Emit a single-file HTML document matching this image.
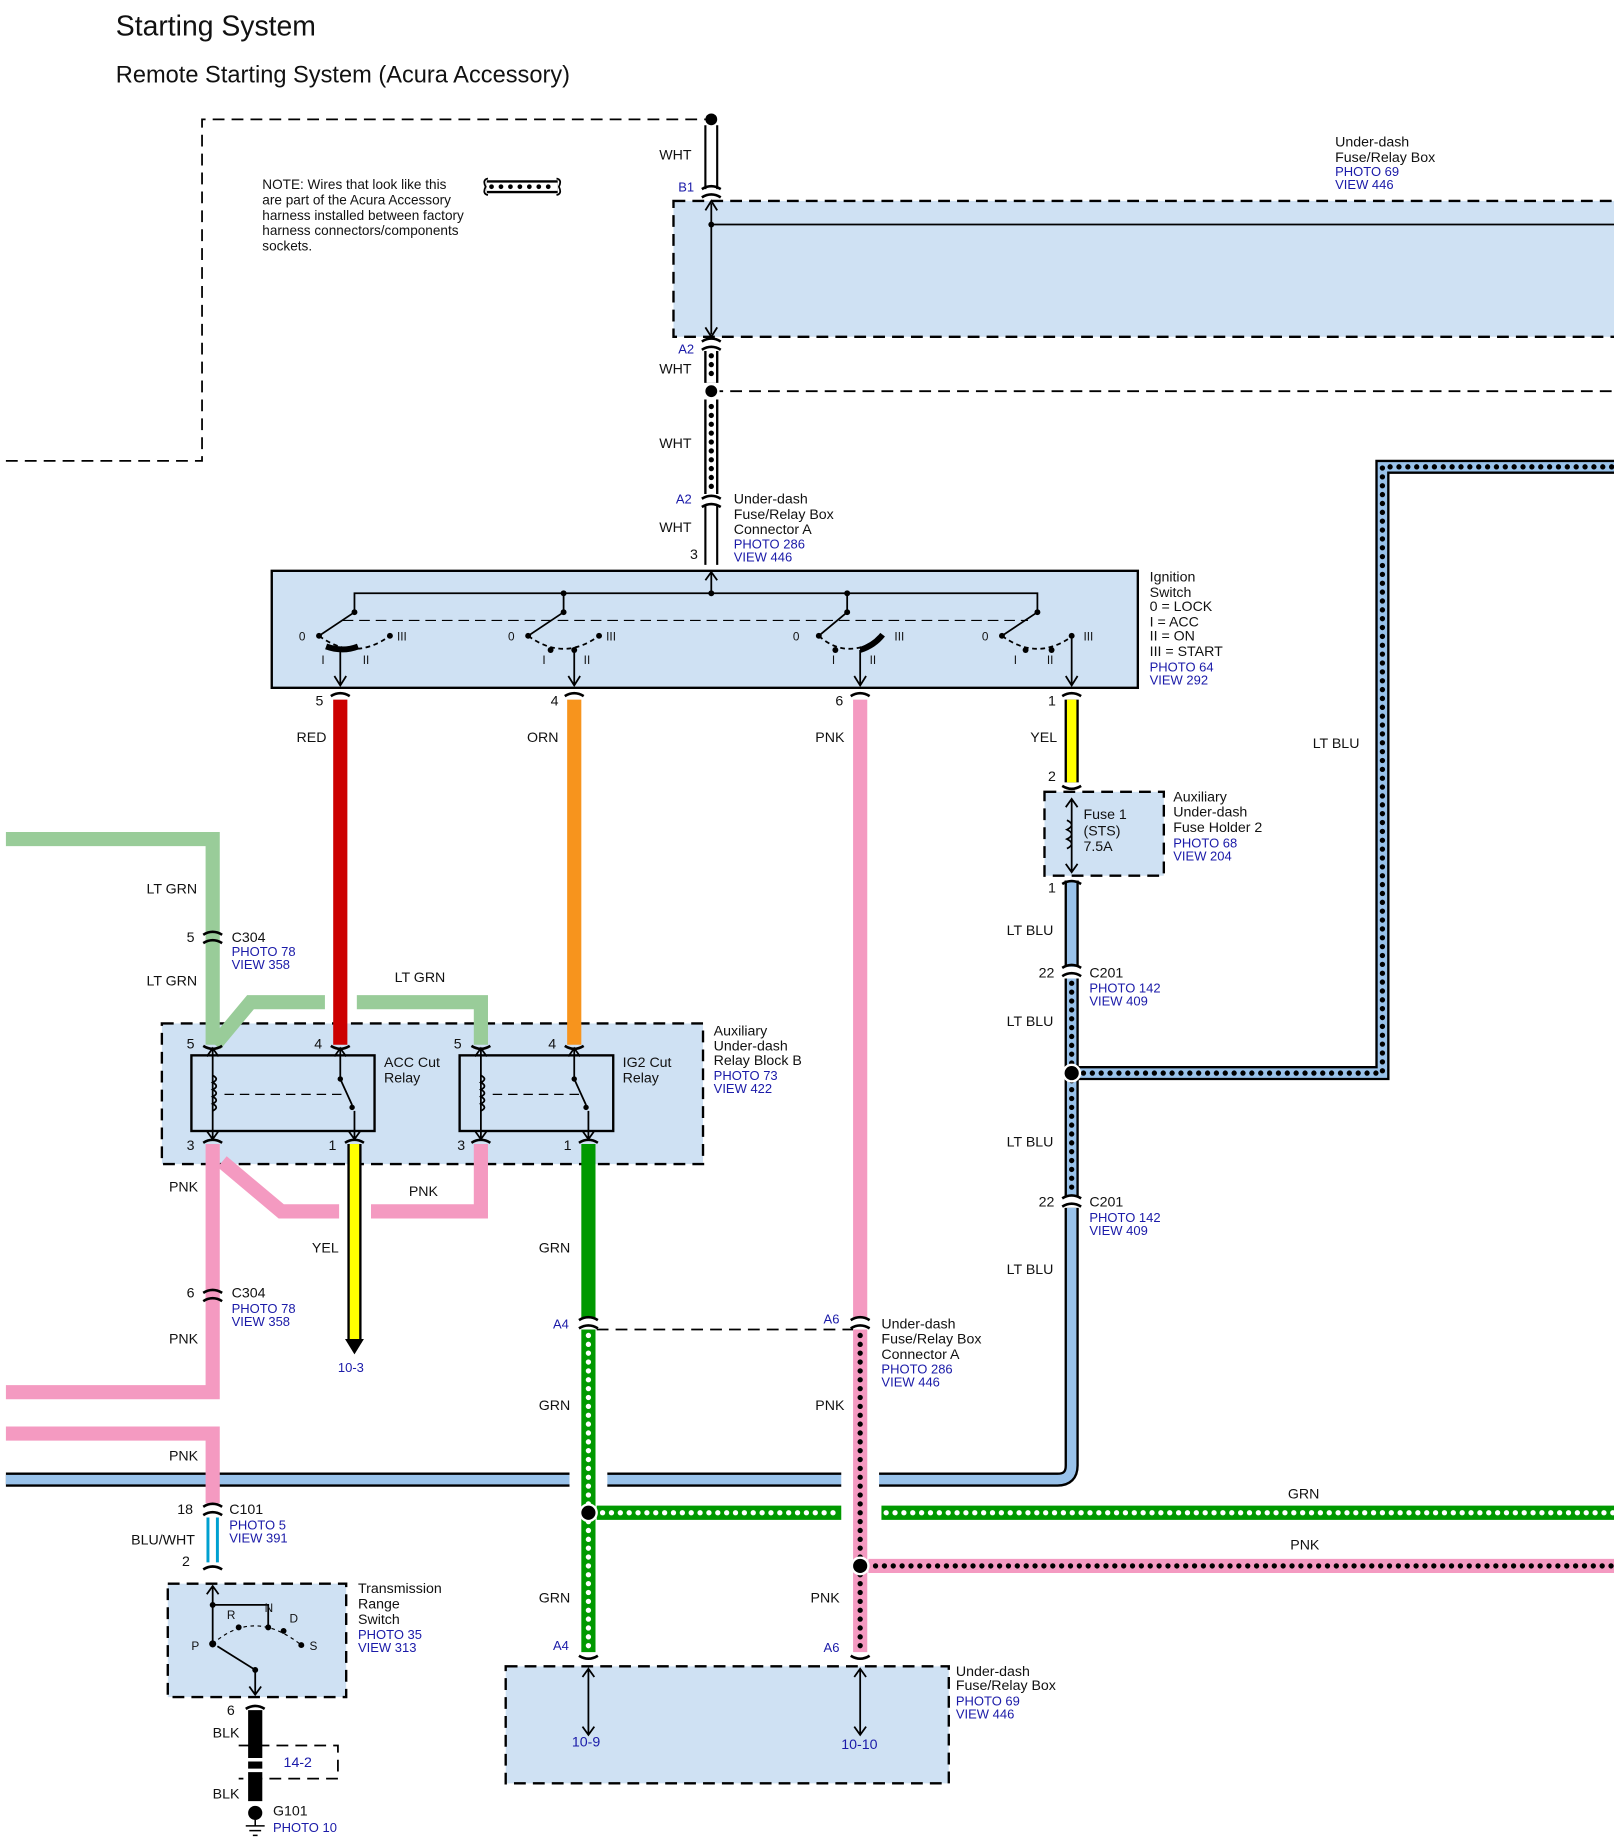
<!DOCTYPE html>
<html><head><meta charset="utf-8"><style>
html,body{margin:0;padding:0;background:#fff}
svg{display:block}
text{font-family:"Liberation Sans",Arial,sans-serif;font-size:12px;fill:#111}
.b{fill:#1a1aa8;font-size:11px}
.c{fill:none;stroke:#000;stroke-width:2.2}
</style></head><body>
<svg width="1614" height="1846" viewBox="0 0 1366 1562" preserveAspectRatio="none" xmlns="http://www.w3.org/2000/svg">
<text x="98" y="30" style="font-size:24px">Starting System</text>
<text x="98" y="70" style="font-size:20px">Remote Starting System (Acura Accessory)</text>

<!-- boxes -->
<rect x="570" y="170" width="800" height="115" fill="#cfe1f3" stroke="#000" stroke-width="2" stroke-dasharray="10,6"/>
<line x1="602" y1="190" x2="1366" y2="190" stroke="#000" stroke-width="1.5"/>
<circle cx="602" cy="190" r="2.5"/>
<rect x="230" y="483" width="733" height="99" fill="#cfe1f3" stroke="#000" stroke-width="2"/>
<rect x="884" y="670" width="101" height="71" fill="#cfe1f3" stroke="#000" stroke-width="2" stroke-dasharray="10,6"/>
<rect x="137" y="866" width="458" height="119" fill="#cfe1f3" stroke="#000" stroke-width="2" stroke-dasharray="10,6"/>
<rect x="162" y="893" width="155" height="64" fill="none" stroke="#000" stroke-width="2"/>
<rect x="389" y="893" width="130" height="64" fill="none" stroke="#000" stroke-width="2"/>
<rect x="142" y="1340" width="151" height="96" fill="#cfe1f3" stroke="#000" stroke-width="2" stroke-dasharray="10,6"/>
<rect x="428" y="1410" width="375" height="99" fill="#cfe1f3" stroke="#000" stroke-width="2" stroke-dasharray="10,6"/>

<!-- dashed lines -->
<g fill="none" stroke="#000" stroke-width="1.5" stroke-dasharray="10,6">
<path d="M5 390 H171 V101 H602"/>
<path d="M602 331 H1366"/>
<path d="M505 1125 H722"/>
<path d="M202 1477 H286 V1505 H202"/>
</g>
<circle cx="602" cy="101" r="5"/>

<!-- WHT wire -->
<g stroke="#000" stroke-width="1.8" fill="none">
<path d="M597 106 V160 M607 106 V160"/>
<path d="M597 428 V478 M607 428 V478"/>
</g>
<path d="M602 297 V324 M602 338 V418" stroke="#000" stroke-width="12"/>
<path d="M602 297 V324 M602 338 V418" stroke="#fff" stroke-width="8"/>
<path d="M602 301 V322 M602 344 V416" stroke="#000" stroke-width="4.5" stroke-linecap="round" stroke-dasharray="0,7.5"/>
<circle cx="602" cy="331" r="7" fill="#fff"/>
<circle cx="602" cy="331" r="5"/>
<!-- arrows in top box -->
<g stroke="#000" stroke-width="1.5" fill="none">
<path d="M602 172 V283 M597 178 L602 170 L607 178 M597 277 L602 285 L607 277"/>
<path d="M602 500 V484 M597 491 L602 484 L607 491"/>
</g>

<!-- NOTE -->
<text x="222" y="160" style="font-size:11.5px">NOTE: Wires that look like this</text>
<text x="222" y="173" style="font-size:11.5px">are part of the Acura Accessory</text>
<text x="222" y="186" style="font-size:11.5px">harness installed between factory</text>
<text x="222" y="199" style="font-size:11.5px">harness connectors/components</text>
<text x="222" y="212" style="font-size:11.5px">sockets.</text>
<path d="M412 158 H472" stroke="#000" stroke-width="11"/>
<path d="M412 158 H472" stroke="#fff" stroke-width="7"/>
<path d="M416 158 H470" stroke="#000" stroke-width="4" stroke-linecap="round" stroke-dasharray="0,8"/>
<path d="M413 151 Q408 152 411 158 Q408 164 413 165 M471 151 Q476 152 473 158 Q476 164 471 165" fill="none" stroke="#000" stroke-width="1.5"/>

<!-- Ignition switch internals -->
<g stroke="#000" stroke-width="1.5" fill="none">
<path d="M300 518 V502 H878 V518 M477 502 V518 M717 502 V518"/>
<path d="M290 525 H870" stroke-dasharray="9,5" stroke-width="1"/>
<path d="M300 518 L270 538 M477 518 L447 538 M717 518 L693 538 M878 518 L848 538"/>
<path d="M270 538 Q300 560 330 538" stroke-dasharray="4,3"/>
<path d="M447 538 Q477 560 507 538" stroke-dasharray="4,3"/>
<path d="M693 538 Q717 560 748 538" stroke-dasharray="4,3"/>
<path d="M848 538 Q878 560 908 538" stroke-dasharray="4,3"/>
<path d="M276 547 Q290 552 303 547" stroke-width="5"/>
<path d="M728 550 Q740 546 747 537" stroke-width="5"/>
<path d="M288 548 V580 M283 572 L288 580 L293 572"/>
<path d="M486 548 V580 M481 572 L486 580 L491 572"/>
<path d="M728 550 V580 M723 572 L728 580 L733 572"/>
<path d="M907 538 V580 M902 572 L907 580 L912 572"/>
</g>
<g>
<circle cx="300" cy="518" r="2.5"/><circle cx="477" cy="502" r="2.5"/><circle cx="477" cy="518" r="2.5"/><circle cx="602" cy="502" r="2.5"/><circle cx="717" cy="502" r="2.5"/><circle cx="717" cy="518" r="2.5"/><circle cx="878" cy="518" r="2.5"/>
<circle cx="270" cy="538" r="2.5"/><circle cx="330" cy="538" r="2.5"/><circle cx="447" cy="538" r="2.5"/><circle cx="507" cy="538" r="2.5"/><circle cx="693" cy="538" r="2.5"/><circle cx="848" cy="538" r="2.5"/><circle cx="907" cy="538" r="2.5"/>
<circle cx="466" cy="550" r="2.5"/><circle cx="486" cy="550" r="2.5"/><circle cx="707" cy="550" r="2.5"/><circle cx="868" cy="550" r="2.5"/><circle cx="890" cy="550" r="2.5"/>
</g>
<g>
<text x="253" y="542" style="font-size:10px">0</text><text x="336" y="542" style="font-size:10px">III</text><text x="272" y="562" style="font-size:10px">I</text><text x="307" y="562" style="font-size:10px">II</text>
<text x="430" y="542" style="font-size:10px">0</text><text x="513" y="542" style="font-size:10px">III</text><text x="459" y="562" style="font-size:10px">I</text><text x="494" y="562" style="font-size:10px">II</text>
<text x="671" y="542" style="font-size:10px">0</text><text x="757" y="542" style="font-size:10px">III</text><text x="704" y="562" style="font-size:10px">I</text><text x="736" y="562" style="font-size:10px">II</text>
<text x="831" y="542" style="font-size:10px">0</text><text x="917" y="542" style="font-size:10px">III</text><text x="858" y="562" style="font-size:10px">I</text><text x="886" y="562" style="font-size:10px">II</text>
</g>

<!-- LT BLU long -->
<path d="M907 1022 V1240 Q907 1252 895 1252 H5" fill="none" stroke="#000" stroke-width="12"/>
<path d="M907 1022 V1240 Q907 1252 895 1252 H5" fill="none" stroke="#99c2ea" stroke-width="8"/>
<rect x="482" y="1244" width="32" height="16" fill="#fff"/>
<rect x="712" y="1244" width="32" height="16" fill="#fff"/>
<path d="M907 745 V818" stroke="#000" stroke-width="12"/>
<path d="M907 745 V818" stroke="#99c2ea" stroke-width="8"/>
<path d="M907 828 V1012 M907 908 H1170 V395 H1366" fill="none" stroke="#000" stroke-width="12"/>
<path d="M907 828 V1012 M907 908 H1170 V395 H1366" fill="none" stroke="#99c2ea" stroke-width="8"/>
<path d="M907 832 V1010 M917 908 H1170 V395 H1366" fill="none" stroke="#000" stroke-width="4.5" stroke-linecap="round" stroke-dasharray="0,7.5"/>
<circle cx="907" cy="908" r="8" fill="#fff"/>
<circle cx="907" cy="908" r="6"/>

<!-- colored wires -->
<path d="M288 592 V884" stroke="#cc0000" stroke-width="12"/>
<path d="M486 592 V884" stroke="#f7941d" stroke-width="12"/>
<path d="M728 592 V1115" stroke="#f49ac1" stroke-width="12"/>
<path d="M907 592 V662" stroke="#000" stroke-width="12"/>
<path d="M907 592 V662" stroke="#ffff00" stroke-width="8"/>
<g fill="none" stroke="#99cc99" stroke-width="12">
<path d="M5 710 H180 V884"/>
<path d="M182 884 L212 848 H275"/>
<path d="M302 848 H407 V884"/>
</g>
<g fill="none" stroke="#f49ac1" stroke-width="12">
<path d="M180 968 V1178 H5"/>
<path d="M188 983 L238 1025 H287"/>
<path d="M314 1025 H407 V968"/>
<path d="M5 1213 H180 V1272"/>
</g>
<path d="M300 968 V1133" stroke="#000" stroke-width="12"/>
<path d="M300 968 V1133" stroke="#ffff00" stroke-width="8"/>
<path d="M292 1133 L308 1133 L300 1146 Z"/>
<path d="M498 968 V1115" stroke="#009900" stroke-width="12"/>
<!-- dotted green/pink -->
<path d="M498 1125 V1398 M505 1280 H712 M746 1280 H1366" fill="none" stroke="#009900" stroke-width="12"/>
<path d="M498 1130 V1396 M510 1280 H712 M750 1280 H1366" fill="none" stroke="#fff" stroke-width="4.5" stroke-linecap="round" stroke-dasharray="0,7.5"/>
<path d="M728 1125 V1398 M735 1325 H1366" fill="none" stroke="#f49ac1" stroke-width="12"/>
<path d="M728 1130 V1396 M741 1325 H1366" fill="none" stroke="#000" stroke-width="4.5" stroke-linecap="round" stroke-dasharray="0,7.5"/>
<circle cx="498" cy="1280" r="8" fill="#fff"/><circle cx="498" cy="1280" r="6"/>
<circle cx="728" cy="1325" r="8" fill="#fff"/><circle cx="728" cy="1325" r="6"/>
<!-- BLU/WHT -->
<path d="M176 1284 V1322 M184 1284 V1322" stroke="#00a0d0" stroke-width="2.5"/>
<!-- BLK -->
<path d="M216 1447 V1524" stroke="#000" stroke-width="12"/>
<path d="M208 1489 H224 M208 1498 H224" stroke="#fff" stroke-width="3"/>
<circle cx="216" cy="1534" r="6"/>
<path d="M208 1545 H224 M211 1549 H221 M214 1553 H218 M216 1540 V1545" stroke="#000" stroke-width="1.3"/>

<!-- connectors -->
<g class="c">
<path d="M594 160 Q602 155 610 160 M594 167 Q602 162 610 167"/>
<path d="M594 289 Q602 284 610 289 M594 296 Q602 291 610 296"/>
<path d="M594 422 Q602 417 610 422 M594 429 Q602 424 610 429"/>
<path d="M280 589 Q288 584 296 589"/><path d="M478 589 Q486 584 494 589"/><path d="M720 589 Q728 584 736 589"/><path d="M899 589 Q907 584 915 589"/>
<path d="M899 665 Q907 670 915 665"/><path d="M899 748 Q907 743 915 748"/>
<path d="M899 819 Q907 814 915 819 M899 826 Q907 821 915 826"/>
<path d="M899 1014 Q907 1009 915 1014 M899 1021 Q907 1016 915 1021"/>
<path d="M172 791 Q180 786 188 791 M172 798 Q180 793 188 798"/>
<path d="M172 1094 Q180 1089 188 1094 M172 1101 Q180 1096 188 1101"/>
<path d="M172 1275 Q180 1270 188 1275 M172 1282 Q180 1277 188 1282"/>
<path d="M172 885 Q180 890 188 885"/><path d="M280 885 Q288 890 296 885"/><path d="M399 885 Q407 890 415 885"/><path d="M478 885 Q486 890 494 885"/>
<path d="M172 967 Q180 962 188 967"/><path d="M292 967 Q300 962 308 967"/><path d="M399 967 Q407 962 415 967"/><path d="M490 967 Q498 962 506 967"/>
<path d="M490 1117 Q498 1112 506 1117 M490 1124 Q498 1119 506 1124"/>
<path d="M720 1117 Q728 1112 736 1117 M720 1124 Q728 1119 736 1124"/>
<path d="M172 1328 Q180 1323 188 1328"/>
<path d="M490 1401 Q498 1406 506 1401"/><path d="M720 1401 Q728 1406 736 1401"/>
<path d="M208 1446 Q216 1441 224 1446"/>
</g>
<!-- arrows inside boxes -->
<g stroke="#000" stroke-width="1.5" fill="none">
<path d="M907 676 V738 M902 683 L907 676 L912 683 M902 731 L907 738 L912 731"/>
<path d="M903 694 q8 4 0 8 q8 4 0 8 q8 4 0 8"/>
<path d="M498 1412 V1468 M493 1419 L498 1412 L503 1419 M493 1461 L498 1468 L503 1461"/>
<path d="M728 1412 V1468 M723 1419 L728 1412 L733 1419 M723 1461 L728 1468 L733 1461"/>
<path d="M180 887 V964 M175 894 L180 887 L185 894 M175 957 L180 964 L185 957"/>
<path d="M180 910 q6 3 0 6 q6 3 0 6 q6 3 0 6 q6 3 0 6 q6 3 0 6"/>
<path d="M288 887 V913 M283 894 L288 887 L293 894"/>
<path d="M288 913 L298 935 M300 940 V964 M295 957 L300 964 L305 957"/>
<path d="M190 926 H290" stroke-dasharray="8,5" stroke-width="1"/>
<path d="M407 887 V964 M402 894 L407 887 L412 894 M402 957 L407 964 L412 957"/>
<path d="M407 910 q6 3 0 6 q6 3 0 6 q6 3 0 6 q6 3 0 6 q6 3 0 6"/>
<path d="M486 887 V913 M481 894 L486 887 L491 894"/>
<path d="M486 913 L496 935 M498 940 V964 M493 957 L498 964 L503 957"/>
<path d="M417 926 H490" stroke-dasharray="8,5" stroke-width="1"/>
<path d="M180 1342 V1391 M175 1349 L180 1342 L185 1349"/>
<path d="M180 1358 H227 V1377"/>
<path d="M180 1391 Q215 1360 255 1392" stroke-dasharray="3,3" stroke-width="1"/>
<path d="M216 1413 L184 1393 M216 1413 V1434 M211 1427 L216 1434 L221 1427"/>
</g>
<g>
<circle cx="288" cy="913" r="2.3"/><circle cx="298" cy="937" r="2.3"/><circle cx="486" cy="913" r="2.3"/><circle cx="496" cy="937" r="2.3"/>
<circle cx="180" cy="1358" r="2.5"/><circle cx="180" cy="1391" r="3"/><circle cx="202" cy="1377" r="2.5"/><circle cx="227" cy="1377" r="2.5"/><circle cx="240" cy="1380" r="2.5"/><circle cx="255" cy="1392" r="2.5"/><circle cx="216" cy="1413" r="2.5"/>
</g>

<!-- labels -->
<text x="558" y="135">WHT</text><text x="574" y="162" class="b">B1</text>
<text x="574" y="299" class="b">A2</text><text x="558" y="316">WHT</text>
<text x="558" y="379">WHT</text><text x="572" y="426" class="b">A2</text>
<text x="558" y="450">WHT</text><text x="584" y="473">3</text>
<text x="621" y="426">Under-dash</text><text x="621" y="439">Fuse/Relay Box</text><text x="621" y="452">Connector A</text>
<text x="621" y="464" class="b">PHOTO 286</text><text x="621" y="475" class="b">VIEW 446</text>
<text x="1130" y="124">Under-dash</text><text x="1130" y="137">Fuse/Relay Box</text>
<text x="1130" y="149" class="b">PHOTO 69</text><text x="1130" y="160" class="b">VIEW 446</text>
<text x="973" y="492">Ignition</text><text x="973" y="505">Switch</text><text x="973" y="517">0 = LOCK</text><text x="973" y="530">I = ACC</text><text x="973" y="542">II = ON</text><text x="973" y="555">III = START</text>
<text x="973" y="568" class="b">PHOTO 64</text><text x="973" y="579" class="b">VIEW 292</text>
<text x="267" y="597">5</text><text x="466" y="597">4</text><text x="707" y="597">6</text><text x="887" y="597">1</text>
<text x="251" y="628">RED</text><text x="446" y="628">ORN</text><text x="690" y="628">PNK</text><text x="872" y="628">YEL</text>
<text x="1111" y="633">LT BLU</text>
<text x="887" y="661">2</text>
<text x="917" y="693">Fuse 1</text><text x="917" y="707">(STS)</text><text x="917" y="720">7.5A</text>
<text x="993" y="678">Auxiliary</text><text x="993" y="691">Under-dash</text><text x="993" y="704">Fuse Holder 2</text>
<text x="993" y="717" class="b">PHOTO 68</text><text x="993" y="728" class="b">VIEW 204</text>
<text x="887" y="755">1</text>
<text x="852" y="791">LT BLU</text>
<text x="879" y="827">22</text><text x="922" y="827">C201</text><text x="922" y="840" class="b">PHOTO 142</text><text x="922" y="851" class="b">VIEW 409</text>
<text x="852" y="868">LT BLU</text>
<text x="852" y="970">LT BLU</text>
<text x="879" y="1021">22</text><text x="922" y="1021">C201</text><text x="922" y="1034" class="b">PHOTO 142</text><text x="922" y="1045" class="b">VIEW 409</text>
<text x="852" y="1078">LT BLU</text>
<text x="124" y="756">LT GRN</text>
<text x="158" y="797">5</text><text x="196" y="797">C304</text><text x="196" y="809" class="b">PHOTO 78</text><text x="196" y="820" class="b">VIEW 358</text>
<text x="124" y="834">LT GRN</text><text x="334" y="831">LT GRN</text>
<text x="158" y="887">5</text><text x="266" y="887">4</text><text x="384" y="887">5</text><text x="464" y="887">4</text>
<text x="325" y="903">ACC Cut</text><text x="325" y="916">Relay</text>
<text x="527" y="903">IG2 Cut</text><text x="527" y="916">Relay</text>
<text x="604" y="876">Auxiliary</text><text x="604" y="889">Under-dash</text><text x="604" y="901">Relay Block B</text>
<text x="604" y="914" class="b">PHOTO 73</text><text x="604" y="925" class="b">VIEW 422</text>
<text x="158" y="973">3</text><text x="278" y="973">1</text><text x="387" y="973">3</text><text x="477" y="973">1</text>
<text x="143" y="1008">PNK</text><text x="346" y="1012">PNK</text>
<text x="264" y="1060">YEL</text><text x="456" y="1060">GRN</text>
<text x="158" y="1098">6</text><text x="196" y="1098">C304</text><text x="196" y="1111" class="b">PHOTO 78</text><text x="196" y="1122" class="b">VIEW 358</text>
<text x="143" y="1137">PNK</text>
<text x="468" y="1124" class="b">A4</text><text x="697" y="1120" class="b">A6</text>
<text x="746" y="1124">Under-dash</text><text x="746" y="1137">Fuse/Relay Box</text><text x="746" y="1150">Connector A</text>
<text x="746" y="1162" class="b">PHOTO 286</text><text x="746" y="1173" class="b">VIEW 446</text>
<text x="286" y="1161" class="b">10-3</text>
<text x="456" y="1193">GRN</text><text x="690" y="1193">PNK</text>
<text x="143" y="1236">PNK</text>
<text x="1090" y="1268">GRN</text><text x="1092" y="1311">PNK</text>
<text x="150" y="1281">18</text><text x="194" y="1281">C101</text><text x="194" y="1294" class="b">PHOTO 5</text><text x="194" y="1305" class="b">VIEW 391</text>
<text x="111" y="1307">BLU/WHT</text><text x="154" y="1325">2</text>
<text x="303" y="1348">Transmission</text><text x="303" y="1361">Range</text><text x="303" y="1374">Switch</text>
<text x="303" y="1387" class="b">PHOTO 35</text><text x="303" y="1398" class="b">VIEW 313</text>
<text x="192" y="1370" style="font-size:10px">R</text><text x="224" y="1364" style="font-size:10px">N</text><text x="245" y="1373" style="font-size:10px">D</text><text x="162" y="1396" style="font-size:10px">P</text><text x="262" y="1396" style="font-size:10px">S</text>
<text x="456" y="1356">GRN</text><text x="686" y="1356">PNK</text>
<text x="468" y="1396" class="b">A4</text><text x="697" y="1398" class="b">A6</text>
<text x="809" y="1418">Under-dash</text><text x="809" y="1430">Fuse/Relay Box</text>
<text x="809" y="1443" class="b">PHOTO 69</text><text x="809" y="1454" class="b">VIEW 446</text>
<text x="484" y="1478" class="b" style="font-size:12px">10-9</text><text x="712" y="1480" class="b" style="font-size:12px">10-10</text>
<text x="192" y="1451">6</text><text x="180" y="1470">BLK</text>
<text x="240" y="1495" class="b" style="font-size:12px">14-2</text>
<text x="180" y="1522">BLK</text>
<text x="231" y="1536">G101</text><text x="231" y="1550" class="b">PHOTO 10</text>
</svg>
</body></html>
